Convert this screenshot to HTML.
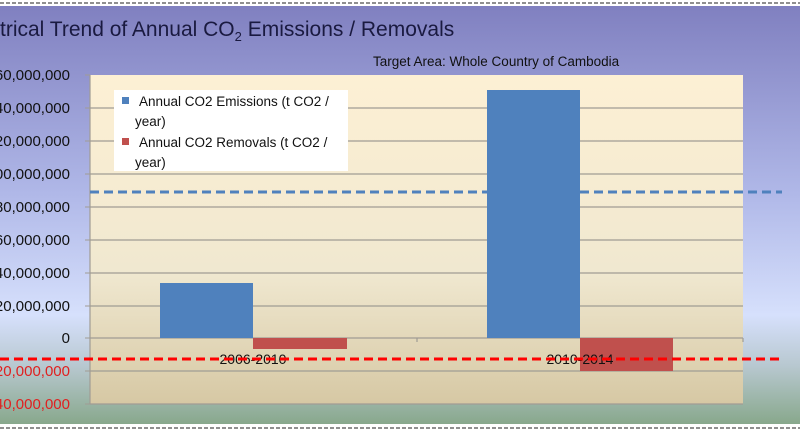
<!DOCTYPE html>
<html><head><style>
body{margin:0;width:800px;height:434px;overflow:hidden;background:#fff}
</style></head><body>
<svg width="800" height="434" xmlns="http://www.w3.org/2000/svg" style="display:block">
<defs>
<linearGradient id="bg" x1="0" y1="0" x2="0" y2="1">
<stop offset="0" stop-color="#8080c0"/>
<stop offset="0.45" stop-color="#b0b8e8"/>
<stop offset="0.74" stop-color="#d6e0fc"/>
<stop offset="0.86" stop-color="#b8c8d0"/>
<stop offset="1" stop-color="#88a88c"/>
</linearGradient>
<linearGradient id="pa" x1="0" y1="0" x2="0" y2="1">
<stop offset="0" stop-color="#fdf0d4"/>
<stop offset="0.6" stop-color="#f0e8d0"/>
<stop offset="1" stop-color="#d6c8a4"/>
</linearGradient>
</defs>
<rect x="0" y="6" width="800" height="418" fill="url(#bg)"/>
<line x1="0" y1="3" x2="800" y2="3" stroke="#222" stroke-dasharray="4,2"/>
<line x1="0" y1="428" x2="800" y2="428" stroke="#222" stroke-dasharray="4,2"/>
<text x="0" y="36" font-family="Liberation Sans, sans-serif" font-size="21" fill="#1a1a40">trical Trend of  Annual CO<tspan font-size="13" dy="5">2</tspan><tspan dy="-5"> Emissions / Removals</tspan></text>
<text x="373" y="66" font-family="Liberation Sans, sans-serif" font-size="13.5" fill="#111">Target Area: Whole Country of  Cambodia</text>
<rect x="90" y="75" width="653" height="329" fill="url(#pa)"/>
<g stroke="#a09c94" stroke-width="1.2">
<line x1="90" y1="108" x2="743" y2="108"/><line x1="90" y1="141" x2="743" y2="141"/>
<line x1="90" y1="174" x2="743" y2="174"/><line x1="90" y1="207" x2="743" y2="207"/>
<line x1="90" y1="240" x2="743" y2="240"/><line x1="90" y1="273" x2="743" y2="273"/>
<line x1="90" y1="306" x2="743" y2="306"/><line x1="90" y1="338" x2="743" y2="338"/>
<line x1="90" y1="371" x2="743" y2="371"/><line x1="90" y1="404" x2="743" y2="404"/>
<line x1="90" y1="75" x2="90" y2="404"/>
<line x1="417" y1="338" x2="417" y2="342"/><line x1="743" y1="338" x2="743" y2="342"/>
</g>
<g stroke="#a09c94"><line x1="85" y1="75" x2="90" y2="75"/><line x1="85" y1="108" x2="90" y2="108"/><line x1="85" y1="141" x2="90" y2="141"/><line x1="85" y1="174" x2="90" y2="174"/><line x1="85" y1="207" x2="90" y2="207"/><line x1="85" y1="240" x2="90" y2="240"/><line x1="85" y1="273" x2="90" y2="273"/><line x1="85" y1="306" x2="90" y2="306"/><line x1="85" y1="338" x2="90" y2="338"/><line x1="85" y1="371" x2="90" y2="371"/><line x1="85" y1="404" x2="90" y2="404"/></g>
<rect x="160" y="283" width="93" height="55" fill="#4f81bd"/>
<rect x="253" y="338" width="94" height="11" fill="#c0504d"/>
<rect x="487" y="90" width="93" height="248" fill="#4f81bd"/>
<rect x="580" y="338" width="93" height="33" fill="#c0504d"/>
<g font-family="Liberation Sans, sans-serif" font-size="15" fill="#111" text-anchor="end">
<text x="70" y="80">160,000,000</text><text x="70" y="113">140,000,000</text>
<text x="70" y="146">120,000,000</text><text x="70" y="179">100,000,000</text>
<text x="70" y="212">80,000,000</text><text x="70" y="245">60,000,000</text>
<text x="70" y="278">40,000,000</text><text x="70" y="311">20,000,000</text>
<text x="70" y="343">0</text>
<text x="70" y="376" fill="#e02020">-20,000,000</text><text x="70" y="409" fill="#e02020">-40,000,000</text>
</g>
<g font-family="Liberation Sans, sans-serif" font-size="14" fill="#111" text-anchor="middle">
<text x="253" y="364">2006-2010</text><text x="580" y="364">2010-2014</text>
</g>
<line x1="90" y1="192" x2="782" y2="192" stroke="#4f81bd" stroke-width="3" stroke-dasharray="9,5"/>
<line x1="0" y1="359" x2="782" y2="359" stroke="#ff0000" stroke-width="3" stroke-dasharray="9,5"/>
<rect x="114" y="90" width="234" height="81" fill="#fff"/>
<rect x="122" y="97" width="7" height="7" fill="#4f81bd"/>
<rect x="122" y="138" width="7" height="7" fill="#c0504d"/>
<g font-family="Liberation Sans, sans-serif" font-size="13.5" fill="#111">
<text x="139" y="106">Annual CO2 Emissions (t CO2 /</text><text x="135" y="126">year)</text>
<text x="139" y="147">Annual CO2 Removals (t CO2 /</text><text x="135" y="167">year)</text>
</g>
</svg>
</body></html>
